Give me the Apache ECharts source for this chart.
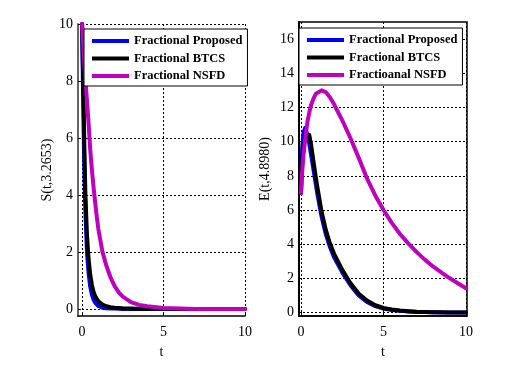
<!DOCTYPE html>
<html>
<head>
<meta charset="utf-8">
<script src="https://cdn.jsdelivr.net/npm/echarts@6/dist/echarts.min.js"></script>
<style>
  html, body { margin: 0; padding: 0; background: #ffffff; }
  #chart { width: 510px; height: 370px; }
</style>
</head>
<body>
<div id="chart"></div>
<script>
// left panel: S(t, 3.2653)
const tS = [0, 0.05, 0.1, 0.15, 0.2, 0.3, 0.4, 0.5, 0.6, 0.7, 0.8, 0.9, 1, 1.25, 1.5, 1.75, 2, 2.25, 2.5, 3, 3.5, 4, 5, 6, 7, 8, 9, 10];
const sProposed = [10, 8.0, 6.2, 4.6, 3.5, 2.0, 1.25, 0.78, 0.5, 0.33, 0.22, 0.15, 0.1, 0.04, 0.02, 0.015, 0.01, 0.005, 0, 0, 0, 0, 0, 0, 0, 0, 0, 0];
const sBTCS = [10, 8.6, 7.0, 5.4, 4.1, 2.6, 1.75, 1.2, 0.85, 0.6, 0.45, 0.35, 0.27, 0.15, 0.09, 0.06, 0.04, 0.03, 0.02, 0.01, 0.005, 0, 0, 0, 0, 0, 0, 0];
const sNSFD = [10, 9.5, 9.0, 8.5, 8.1, 7.3, 6.5, 5.6, 4.9, 4.3, 3.75, 3.25, 2.8, 2.0, 1.5, 1.1, 0.8, 0.58, 0.43, 0.24, 0.14, 0.09, 0.03, 0.01, 0, 0, 0, 0];

// right panel: E(t, 4.8980)
const tE = [0, 0.05, 0.1, 0.15, 0.25, 0.3, 0.4, 0.5, 0.6, 0.75, 0.9, 1, 1.25, 1.5, 1.75, 2, 2.5, 3, 3.5, 4, 4.5, 5, 5.5, 6, 6.5, 7, 7.5, 8, 8.5, 9, 9.5, 10];
const eProposed = [7, 9.3, 10.0, 10.5, 10.8, 10.75, 10.4, 9.9, 9.3, 8.4, 7.5, 6.9, 5.6, 4.6, 3.85, 3.25, 2.35, 1.6, 1.0, 0.62, 0.38, 0.23, 0.15, 0.1, 0.07, 0.04, 0.03, 0.02, 0.01, 0.01, 0, 0];
const eBTCS = [7, 8.2, 9.2, 9.7, 10.2, 10.4, 10.5, 10.4, 9.9, 8.9, 7.9, 7.3, 5.9, 4.85, 4.05, 3.45, 2.5, 1.72, 1.1, 0.7, 0.43, 0.27, 0.18, 0.12, 0.08, 0.05, 0.035, 0.02, 0.015, 0.01, 0.005, 0];
const eNSFD = [7.0, 7.9, 8.6, 9.2, 10.1, 10.5, 11.2, 11.7, 12.1, 12.5, 12.8, 12.9, 13.0, 12.9, 12.6, 12.2, 11.25, 10.2, 9.05, 7.85, 6.85, 6.0, 5.25, 4.6, 4.05, 3.55, 3.1, 2.7, 2.35, 2.02, 1.72, 1.42];

const xTicks = [0, 5, 10];
const sTicks = [0, 2, 4, 6, 8, 10];
const eTicks = [0, 2, 4, 6, 8, 10, 12, 14, 16];

const namesLeft = ['Fractional Proposed', 'Fractional BTCS', 'Fractional NSFD'];
const namesRight = ['Fractional Proposed', 'Fractional BTCS', 'Fractioanal NSFD'];
const colors = ['#0000ff', '#000000', '#bf00bf'];

const serif = 'Liberation Serif';

const dotted = {
  show: true,
  lineStyle: { color: '#000', width: 1, type: [2, 2] }
};

const labelStyle = {
  fontFamily: serif,
  fontSize: 14,
  color: '#000'
};

function pairs(t, v) {
  return t.map((x, i) => [x, v[i]]);
}

function makeX(gridIndex, min, max) {
  return {
    type: 'value',
    gridIndex: gridIndex,
    min: min,
    max: max,
    name: 't',
    nameLocation: 'middle',
    nameGap: 29,
    nameTextStyle: { fontFamily: serif, fontSize: 14, color: '#000' },
    axisLine: { show: true, onZero: false, lineStyle: { color: '#000', width: 1.5 } },
    axisTick: { show: true, inside: true, length: 3, customValues: xTicks, lineStyle: { color: '#000' } },
    axisLabel: { ...labelStyle, margin: 9, customValues: xTicks },
    splitLine: dotted
  };
}

function makeY(gridIndex, min, max, ticks, name, gap, axisColor) {
  return {
    type: 'value',
    gridIndex: gridIndex,
    min: min,
    max: max,
    name: name,
    nameLocation: 'middle',
    nameGap: gap,
    nameTextStyle: { fontFamily: serif, fontSize: 14, color: '#000' },
    axisLine: { show: true, onZero: false, lineStyle: { color: axisColor, width: 2 } },
    axisTick: { show: true, inside: true, length: 3, customValues: ticks, lineStyle: { color: '#000' } },
    axisLabel: { ...labelStyle, margin: 5, customValues: ticks },
    splitLine: dotted
  };
}

function makeSeries(name, t, v, color, idx) {
  return {
    name: name,
    type: 'line',
    xAxisIndex: idx,
    yAxisIndex: idx,
    data: pairs(t, v),
    showSymbol: false,
    smooth: false,
    lineStyle: { color: color, width: 4, join: 'round', cap: 'round' },
    itemStyle: { color: color },
    animation: false
  };
}

function makeLegend(names, left, top) {
  return {
    data: names,
    orient: 'vertical',
    left: left,
    top: top,
    backgroundColor: '#ffffff',
    borderColor: '#000',
    borderWidth: 1,
    padding: [5, 5, 3, 8],
    itemWidth: 37,
    itemHeight: 4,
    itemGap: 3.5,
    icon: 'rect',
    selectedMode: false,
    textStyle: {
      fontFamily: serif,
      fontSize: 12.5,
      fontWeight: 'bold',
      lineHeight: 14,
      color: '#000'
    }
  };
}

const option = {
  backgroundColor: '#ffffff',
  animation: false,
  grid: [
    { left: 78, right: 265, top: 24, bottom: 54, show: false },
    { left: 299, right: 43, top: 22, bottom: 54, show: true, borderColor: '#000', borderWidth: 1.5, backgroundColor: 'transparent' }
  ],
  legend: [
    makeLegend(namesLeft, 84, 29),
    makeLegend(namesRight, 299, 28)
  ],
  xAxis: [
    makeX(0, -0.25, 10),
    makeX(1, -0.12, 10.06)
  ],
  yAxis: [
    makeY(0, -0.25, 10, sTicks, 'S(t,3.2653)', 24, '#666'),
    makeY(1, -0.2, 17, eTicks, 'E(t,4.8980)', 27, '#000')
  ],
  series: [
    makeSeries(namesLeft[0], tS, sProposed, colors[0], 0),
    makeSeries(namesLeft[1], tS, sBTCS, colors[1], 0),
    makeSeries(namesLeft[2], tS, sNSFD, colors[2], 0),
    makeSeries(namesRight[0], tE, eProposed, colors[0], 1),
    makeSeries(namesRight[1], tE, eBTCS, colors[1], 1),
    makeSeries(namesRight[2], tE, eNSFD, colors[2], 1)
  ]
};

const myChart = echarts.init(document.getElementById('chart'));
myChart.setOption(option);
</script>
</body>
</html>
